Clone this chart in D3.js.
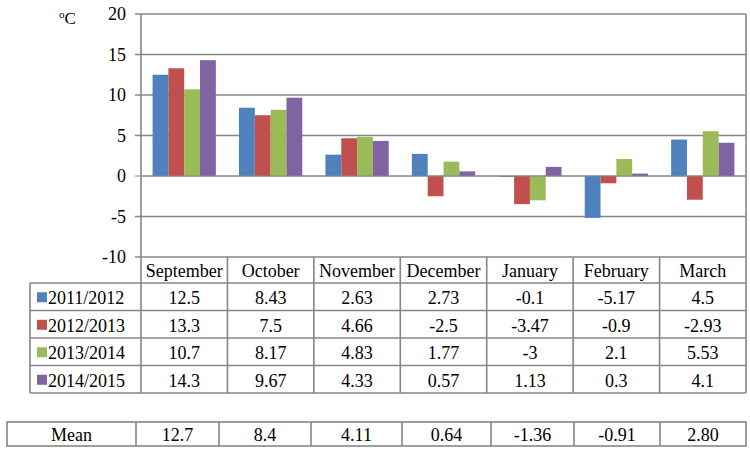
<!DOCTYPE html>
<html>
<head>
<meta charset="utf-8">
<script src="https://cdn.jsdelivr.net/npm/d3@7"></script>
</head>
<body style="margin:0; background:#fff">
<div id="chart"></div>
<script>
const months = ["September", "October", "November", "December", "January", "February", "March"];
const seasons = ["2011/2012", "2012/2013", "2013/2014", "2014/2015"];
const s2011 = [12.5, 8.43, 2.63, 2.73, -0.1, -5.17, 4.5];
const s2012 = [13.3, 7.5, 4.66, -2.5, -3.47, -0.9, -2.93];
const s2013 = [10.7, 8.17, 4.83, 1.77, -3, 2.1, 5.53];
const s2014 = [14.3, 9.67, 4.33, 0.57, 1.13, 0.3, 4.1];
const meanLabels = ["12.7", "8.4", "4.11", "0.64", "-1.36", "-0.91", "2.80"];
const yTicks = [-10, -5, 0, 5, 10, 15, 20];

const seriesValues = [s2011, s2012, s2013, s2014];
const colors = ["#4F81BD", "#C0504D", "#9BBB59", "#8064A2"];
const grid = "#868686";
const serif = "Liberation Serif";

const W = 750, H = 452;
const plot = { left: 141, right: 746, top: 14, bottom: 257 };
const headerBottom = 283, rowH = 27.5, tableLeft = 30;
const meanTop = 422, meanBottom = 446;
// the mean table is a separate pasted table with its own uneven columns
const meanEdges = [7, 136, 219, 311, 402, 491, 574, 660, 746];

const svg = d3.select("#chart").append("svg")
    .attr("width", W)
    .attr("height", H);

// all labels share the same font
function label(sel) {
    return sel.attr("font-family", serif).attr("font-size", 18).attr("fill", "#000");
}

const x = d3.scaleBand()
    .domain(months)
    .range([plot.left, plot.right]);

const y = d3.scaleLinear()
    .domain([-10, 20])
    .range([plot.bottom, plot.top]);

const barW = x.bandwidth() * 0.183;
const inner = d3.scaleBand()
    .domain(seasons)
    .range([(x.bandwidth() - 4 * barW) / 2, (x.bandwidth() + 4 * barW) / 2]);

// gridlines + ticks
svg.append("g").selectAll("line")
    .data(yTicks)
    .join("line")
    .attr("x1", plot.left - 6)
    .attr("x2", plot.right)
    .attr("y1", d => y(d))
    .attr("y2", d => y(d))
    .attr("stroke", grid)
    .attr("stroke-width", d => d === 0 ? 1 : 1.6);

svg.append("g").selectAll("text")
    .data(yTicks)
    .join("text")
    .call(label)
    .attr("x", 126)
    .attr("y", d => y(d))
    .attr("dy", "0.35em")
    .attr("text-anchor", "end")
    .text(d => d);

// bars
const data = [];
seasons.forEach((s, i) => {
    months.forEach((m, j) => data.push({ season: s, month: m, value: seriesValues[i][j], color: colors[i] }));
});

svg.append("g").selectAll("rect")
    .data(data)
    .join("rect")
    .attr("x", d => x(d.month) + inner(d.season))
    .attr("width", inner.bandwidth())
    .attr("y", d => y(Math.max(0, d.value)))
    .attr("height", d => Math.abs(y(d.value) - y(0)))
    .attr("fill", d => d.color);

// zero line drawn over bars
svg.append("line")
    .attr("x1", plot.left).attr("x2", plot.right)
    .attr("y1", y(0)).attr("y2", y(0))
    .attr("stroke", grid).attr("stroke-width", 1);

// plot borders
svg.append("line")
    .attr("x1", plot.left).attr("x2", plot.left)
    .attr("y1", plot.top).attr("y2", headerBottom + rowH * 4)
    .attr("stroke", grid).attr("stroke-width", 1.6);
svg.append("line")
    .attr("x1", plot.right).attr("x2", plot.right)
    .attr("y1", plot.top).attr("y2", headerBottom + rowH * 4)
    .attr("stroke", grid).attr("stroke-width", 1.6);

// unit label
const unit = svg.append("text")
    .call(label)
    .attr("x", 59)
    .attr("y", 24)
    .attr("font-size", 17);
unit.append("tspan").attr("dy", -6).attr("font-size", 11).text("o");
unit.append("tspan").attr("dy", 6).text("C");

// data table
const tbl = svg.append("g");
const rowTop = i => headerBottom + rowH * i;
const tableBottom = rowTop(seasons.length);

tbl.append("line")
    .attr("x1", plot.left).attr("x2", plot.right)
    .attr("y1", headerBottom).attr("y2", headerBottom);
tbl.selectAll(".hr")
    .data(d3.range(1, seasons.length + 1))
    .join("line")
    .attr("class", "hr")
    .attr("x1", tableLeft).attr("x2", plot.right)
    .attr("y1", d => rowTop(d)).attr("y2", d => rowTop(d));
tbl.append("line")
    .attr("x1", tableLeft).attr("x2", plot.left)
    .attr("y1", headerBottom).attr("y2", headerBottom);
tbl.append("line")
    .attr("x1", tableLeft).attr("x2", tableLeft)
    .attr("y1", headerBottom).attr("y2", tableBottom);
tbl.selectAll(".vr")
    .data(months.slice(1))
    .join("line")
    .attr("class", "vr")
    .attr("x1", d => x(d)).attr("x2", d => x(d))
    .attr("y1", plot.bottom).attr("y2", tableBottom);
tbl.selectAll("line").attr("stroke", grid).attr("stroke-width", 1.6);

tbl.selectAll(".hdr")
    .data(months)
    .join("text")
    .attr("class", "hdr")
    .call(label)
    .attr("x", d => x(d) + x.bandwidth() / 2)
    .attr("y", (plot.bottom + headerBottom) / 2 + 1)
    .attr("dy", "0.35em")
    .attr("text-anchor", "middle")
    .text(d => d);

seasons.forEach((s, i) => {
    const cy = rowTop(i) + rowH / 2 + 1;
    tbl.append("rect")
        .attr("x", 37).attr("y", cy - 5.5)
        .attr("width", 10).attr("height", 10)
        .attr("fill", colors[i]);
    tbl.append("text")
        .call(label)
        .attr("x", 48).attr("y", cy)
        .attr("dy", "0.35em")
        .text(s);
    tbl.selectAll(".v" + i)
        .data(months)
        .join("text")
        .call(label)
        .attr("x", d => x(d) + x.bandwidth() / 2)
        .attr("y", cy)
        .attr("dy", "0.35em")
        .attr("text-anchor", "middle")
        .text((d, j) => String(seriesValues[i][j]));
});

// mean table
const mean = svg.append("g");
mean.append("rect")
    .attr("x", meanEdges[0]).attr("y", meanTop)
    .attr("width", meanEdges[8] - meanEdges[0])
    .attr("height", meanBottom - meanTop)
    .attr("fill", "none").attr("stroke", grid).attr("stroke-width", 1.6);
mean.selectAll("line")
    .data(meanEdges.slice(1, 8))
    .join("line")
    .attr("x1", d => d).attr("x2", d => d)
    .attr("y1", meanTop).attr("y2", meanBottom)
    .attr("stroke", grid).attr("stroke-width", 1.6);
const meanCells = ["Mean"].concat(meanLabels);
mean.selectAll("text")
    .data(meanCells)
    .join("text")
    .call(label)
    .attr("x", (d, i) => (meanEdges[i] + meanEdges[i + 1]) / 2)
    .attr("y", (meanTop + meanBottom) / 2 + 1)
    .attr("dy", "0.35em")
    .attr("text-anchor", "middle")
    .text(d => d);
</script>
</body>
</html>
